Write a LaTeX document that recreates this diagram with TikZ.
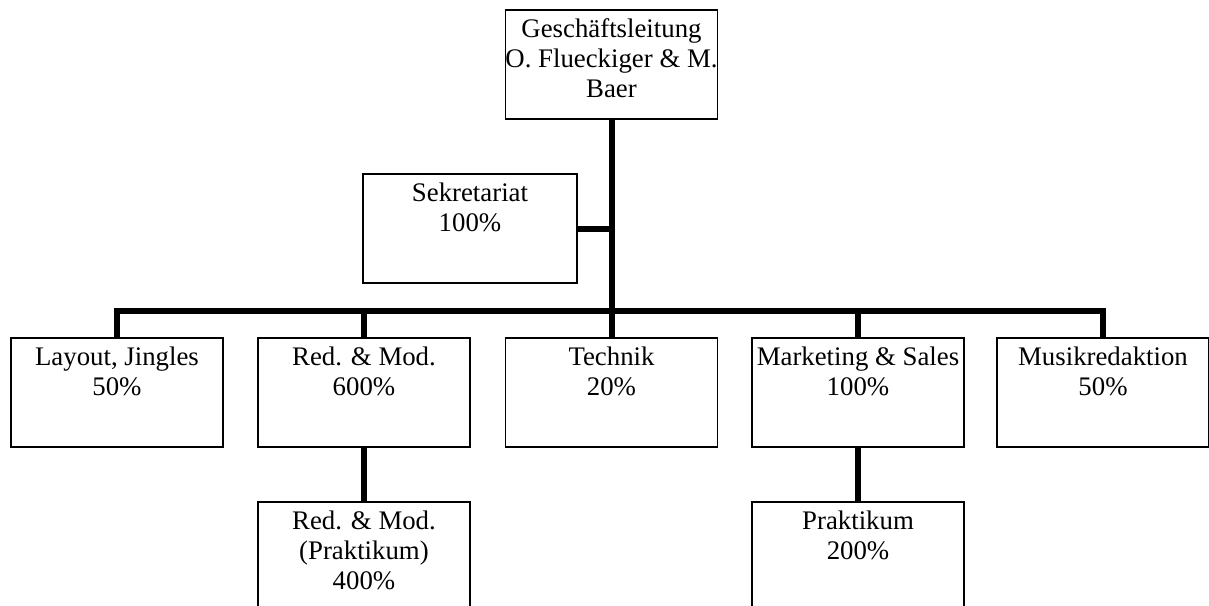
\documentclass[tikz,border=0pt]{standalone}
\usepackage{fontspec}
\setmainfont{Liberation Serif}
\usepackage{tikz}

\tikzset{
    box/.style={draw, line width=0.8pt, minimum width=106pt, minimum height=54.5pt, inner sep=0pt},
    boxtext/.style={anchor=north, align=center, inner sep=0pt, yshift=-4.5pt, font=\fontsize{13.4pt}{15pt}\selectfont},
    conn/.style={line width=3pt}
}

\begin{document}
\begin{tikzpicture}[x=0.5pt, y=-0.5pt]
        % page frame
        \useasboundingbox (0,0) rectangle (1209,605);
        \clip (0,0) rectangle (1209,605);

        % Top of the chart
        \node[box, label={[boxtext]north:Geschäftsleitung\\O. Flueckiger \& M.\\Baer}] (gl) at (611.5,64.5) {};
        \node[box, minimum width=107pt, label={[boxtext]north:Sekretariat\\100\%}] (sek) at (470,228.5) {};

        % Departments
        \node[box, label={[boxtext]north:Layout, Jingles\\50\%}] (lay) at (117,392.5) {};
        \node[box, label={[boxtext]north:Red. \& Mod.\\600\%}] (red) at (364,392.5) {};
        \node[box, label={[boxtext]north:Technik\\20\%}] (tech) at (611.5,392.5) {};
        \node[box, label={[boxtext]north:Marketing \& Sales\\100\%}] (mark) at (858,392.5) {};
        \node[box, label={[boxtext]north:Musikredaktion\\50\%}] (musik) at (1103,392.5) {};

        % Interns
        \node[box, label={[boxtext]north:Red. \& Mod.\\(Praktikum)\\400\%}] (redprak) at (364,556.5) {};
        \node[box, label={[boxtext]north:Praktikum\\200\%}] (markprak) at (858,556.5) {};

        % Connectors
        \coordinate (bus) at (611.5,311);
        \draw[conn] (gl.south) -- (tech.north);
        \draw[conn] (sek.east) -- (sek.east -| gl.south);
        \draw[conn] (lay.north) |- (bus) -| (musik.north);
        \draw[conn] (red.north) -- (red.north |- bus);
        \draw[conn] (mark.north) -- (mark.north |- bus);
        \draw[conn] (red.south) -- (redprak.north);
        \draw[conn] (mark.south) -- (markprak.north);
\end{tikzpicture}
\end{document}
